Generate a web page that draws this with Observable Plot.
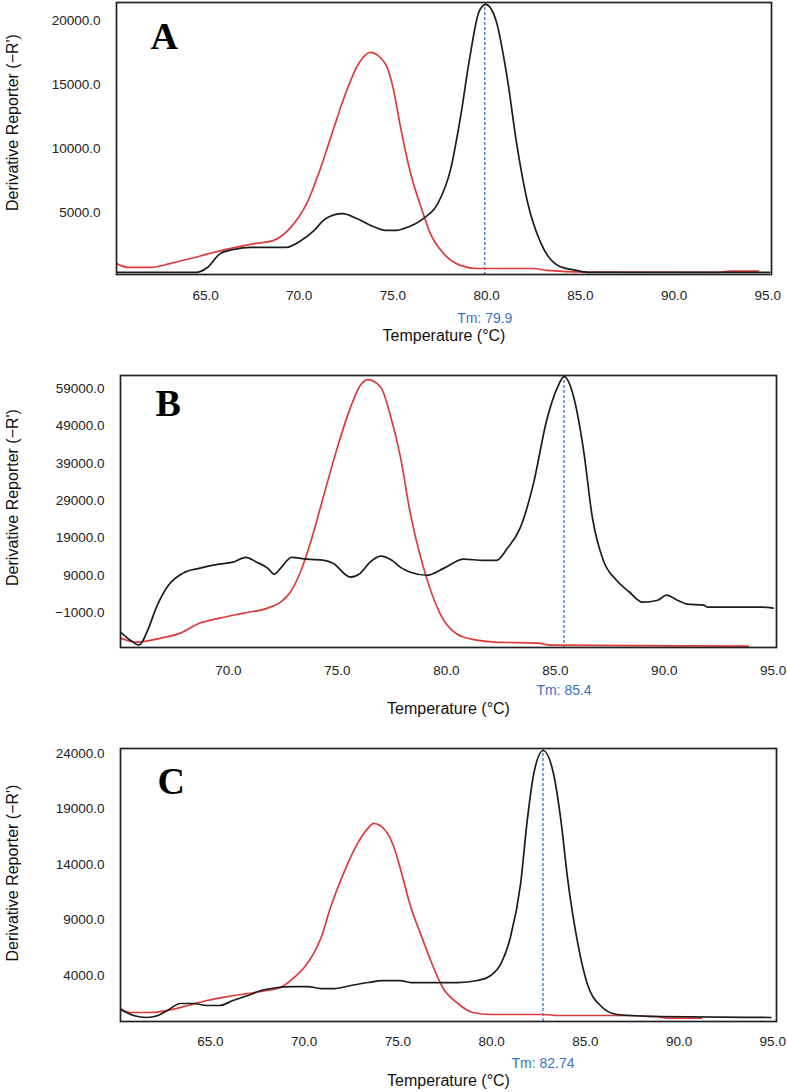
<!DOCTYPE html>
<html>
<head>
<meta charset="utf-8">
<script src="https://cdn.jsdelivr.net/npm/d3@7"></script>
<script src="https://cdn.jsdelivr.net/npm/@observablehq/plot@0.6"></script>
<style>
  body { margin: 0; background: #fff; }
  #root svg { display: block; }
</style>
</head>
<body>
<div id="root"></div>
<script>
// ---------- Data ----------
// Panel A
const redA_T   = [60.25,60.9,62.1,63.1,64.2,65.5,66.6,67.7,68.6,69.5,70.4,71.1,71.8,72.4,73.2,73.8,74.6,75.0,75.4,75.9,76.5,77.0,77.7,78.6,79.5,82.5,83.2,85.4,92.4,93.0,94.5];
const redA_V   = [1000,700,700,1000,1400,1900,2270,2580,2800,3750,5700,8300,11400,14000,16700,17500,16600,14800,11700,8300,5400,3350,1800,860,620,620,470,330,320,420,420];
const blackA_T = [60.25,64.5,65.1,65.8,66.5,67.4,69.3,70.1,70.8,71.4,72.3,73.1,73.8,74.6,75.2,75.6,76.6,77.4,78.1,78.6,79.1,79.6,79.95,80.5,81.1,81.6,82.2,82.9,83.8,84.8,85.5,95.1];
const blackA_V = [310,310,700,1800,2100,2270,2270,2800,3600,4500,4900,4500,4000,3600,3600,3750,4500,5700,8500,12400,17100,20700,21250,20000,15500,10400,5700,2580,860,470,320,310];

// Panel B
const redB_T   = [65.05,65.8,66.9,67.8,68.7,69.6,70.7,71.8,72.4,72.85,73.3,73.8,74.4,75.0,75.6,76.05,76.4,77.0,77.4,77.9,78.35,78.95,79.7,80.5,81.4,82.2,84.2,84.8,93.85];
const redB_V   = [-7850,-8900,-7850,-6500,-3800,-2500,-1150,200,1800,4500,9800,18400,30900,43200,53900,59800,61400,59300,52500,40500,25500,11100,-1150,-6800,-8400,-8900,-9200,-9700,-10000];
const blackB_T = [65.05,65.5,65.9,66.3,66.7,67.25,67.9,68.7,69.5,70.2,70.8,71.3,71.8,72.1,72.4,72.9,73.6,74.4,74.8,75.6,76.05,76.5,77.0,77.5,77.9,78.35,79.1,79.9,80.8,81.7,82.3,82.8,83.4,84.0,84.6,85.1,85.4,85.8,86.3,86.7,87.2,87.8,88.4,89.0,89.7,90.1,90.6,91.05,91.8,92.0,94.5,95.0];
const blackB_V = [-6240,-8400,-9700,-5700,450,6300,9500,10900,11900,12500,13800,12500,10900,9300,10900,13800,13300,13000,12200,8500,9500,12500,14100,13000,11100,9800,9000,10900,13300,13000,13000,16200,21800,33600,50400,59300,62200,57700,42400,24500,13000,7700,4500,1800,2300,3650,2300,1250,1000,450,450,180];

// Panel C
const redC_T   = [60.2,60.7,61.8,62.7,63.8,64.8,65.9,67.0,68.0,68.7,69.4,70.0,70.5,70.9,71.4,72.1,72.85,73.4,73.7,74.45,74.9,75.2,75.7,76.2,76.75,77.4,78.2,79.0,79.95,82.8,83.5,86.7,88.8,89.4,91.2];
const redC_V   = [1030,670,670,850,1300,1750,2100,2380,2650,2900,3730,4720,5980,7400,10100,13200,15900,17250,17700,16800,15000,13200,10100,7800,5350,2900,1480,670,490,490,400,400,300,160,160];
const blackC_T = [60.2,60.9,61.6,62.2,62.7,63.4,64.1,64.8,65.5,66.2,67.0,67.7,68.6,69.3,70.2,70.9,71.6,72.5,73.4,74.2,75.1,75.7,78.2,79.25,79.95,80.5,81.0,81.55,81.9,82.25,82.75,83.3,83.7,84.05,84.6,85.1,85.8,86.7,88.9,94.9];
const blackC_V = [940,400,220,400,850,1480,1480,1300,1300,1750,2200,2650,2920,3010,3010,2830,2830,3100,3370,3550,3550,3370,3370,3550,4000,5080,7420,12300,17950,22200,24270,22200,17950,12800,6880,3280,1300,490,310,220];

// Tick values
const xTicksA = [65, 70, 75, 80, 85, 90, 95];
const yTicksA = [5000, 10000, 15000, 20000];
const xTicksB = [70, 75, 80, 85, 90, 95];
const yTicksB = [-1000, 9000, 19000, 29000, 39000, 49000, 59000];
const xTicksC = [65, 70, 75, 80, 85, 90, 95];
const yTicksC = [4000, 9000, 14000, 19000, 24000];

// Melting temperatures and labels
const tmValues = [79.9, 85.4, 82.74];
const tmLabels = ["Tm: 79.9", "Tm: 85.4", "Tm: 82.74"];
const panelLetters = ["A", "B", "C"];
const xTitle = "Temperature (°C)";
const yTitle = "Derivative Reporter (−R')";

// ---------- Helpers ----------
const zip = (T, V) => T.map((t, i) => ({t, v: V[i]}));
const fmt = d3.format(".1f");
const FONT = "'Liberation Sans', Arial, Helvetica, sans-serif";
const RED = "#dd3b3b";
const BLACK = "#1c1c1c";
const BLUE = "#3a72c4";

function panel(cfg) {
  return Plot.plot({
    width: 787,
    height: cfg.h,
    marginTop: cfg.mt, marginBottom: cfg.mb, marginLeft: cfg.ml, marginRight: cfg.mr,
    x: {domain: cfg.xd},
    y: {domain: cfg.yd},
    style: {fontFamily: FONT, fontSize: "13.5px", color: "#222", background: "#fff"},
    marks: [
      Plot.axisX(cfg.xt, {tickSize: 0, tickPadding: cfg.xPad, tickFormat: fmt, label: null}),
      Plot.axisY(cfg.yt, {tickSize: 0, tickPadding: 16, tickFormat: fmt, label: null}),
      Plot.ruleX([cfg.tm], {x: d => d, stroke: BLUE, strokeWidth: 1.3, strokeDasharray: "3,2"}),
      Plot.line(cfg.red, {x: "t", y: "v", stroke: RED, strokeWidth: 1.7, curve: "monotone-x", clip: true}),
      Plot.line(cfg.black, {x: "t", y: "v", stroke: BLACK, strokeWidth: 1.7, curve: "monotone-x", clip: true}),
      Plot.frame({stroke: "#222", strokeWidth: 1.7}),
      Plot.text([{t: cfg.tm, label: cfg.tmLabel}], {x: "t", text: "label", frameAnchor: "bottom", dy: cfg.tmDy, lineAnchor: "middle", fill: BLUE, fontSize: 14}),
      Plot.text([xTitle], {text: d => d, frameAnchor: "bottom", dy: cfg.titleDy, lineAnchor: "middle", fontSize: 16, fill: "#111"}),
      Plot.text([yTitle], {text: d => d, frameAnchor: "left", rotate: -90, dx: cfg.ylDx, dy: cfg.ylDy, lineAnchor: "middle", textAnchor: "middle", fontSize: 16, fill: "#111"}),
      Plot.text([cfg.letter], {text: d => d, frameAnchor: "top-left", textAnchor: "start", lineAnchor: "middle", dx: cfg.lDx, dy: cfg.lDy, fontSize: 38, fontWeight: "bold", fontFamily: "'Liberation Serif', 'Times New Roman', serif", fill: "#000"})
    ]
  });
}

const root = document.getElementById("root");
root.appendChild(panel({
  h: 355, mt: 2, mb: 81, ml: 116, mr: 16,
  xd: [60.25, 95.2], yd: [150, 21400], xt: xTicksA, yt: yTicksA, xPad: 16,
  red: zip(redA_T, redA_V), black: zip(blackA_T, blackA_V),
  tm: tmValues[0], tmLabel: tmLabels[0], tmDy: 44, titleDy: 61,
  ylDx: -104, ylDy: -16, letter: panelLetters[0], lDx: 34, lDy: 34
}));
root.appendChild(panel({
  h: 375, mt: 20, mb: 83, ml: 120, mr: 11,
  xd: [65.05, 95.15], yd: [-10360, 62500], xt: xTicksB, yt: yTicksB, xPad: 18,
  red: zip(redB_T, redB_V), black: zip(blackB_T, blackB_V),
  tm: tmValues[1], tmLabel: tmLabels[1], tmDy: 43, titleDy: 61,
  ylDx: -108, ylDy: -14, letter: panelLetters[1], lDx: 35, lDy: 28
}));
root.appendChild(panel({
  h: 362, mt: 18, mb: 71, ml: 120, mr: 11,
  xd: [60.2, 95.2], yd: [-140, 24450], xt: xTicksC, yt: yTicksC, xPad: 15,
  red: zip(redC_T, redC_V), black: zip(blackC_T, blackC_V),
  tm: tmValues[2], tmLabel: tmLabels[2], tmDy: 42, titleDy: 59,
  ylDx: -108, ylDy: -12, letter: panelLetters[2], lDx: 37, lDy: 33
}));
</script>
</body>
</html>
